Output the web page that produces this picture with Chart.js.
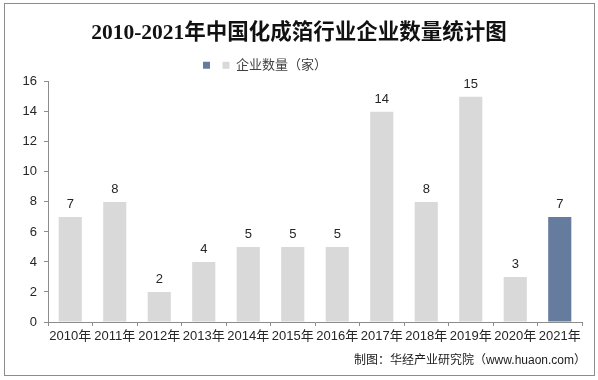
<!DOCTYPE html>
<html><head><meta charset="utf-8">
<script src="https://cdn.jsdelivr.net/npm/chart.js@4"></script>
<style>html,body{margin:0;padding:0;background:#fff}#wrap{width:598px;height:380px;position:relative}</style>
</head><body><div id="wrap"><canvas id="c" width="598" height="380"></canvas></div>
<script>
const categories = ['2010年','2011年','2012年','2013年','2014年','2015年','2016年','2017年','2018年','2019年','2020年','2021年'];
const companyCounts = [7,8,2,4,5,5,5,14,8,15,3,7];
const highlightYear = '2021年';
const yTicks = [0,2,4,6,8,10,12,14,16];
const seriesLabel = '企业数量（家）';
const titleText = '2010-2021年中国化成箔行业企业数量统计图';
const sourceText = '制图：华经产业研究院（www.huaon.com）';

const grayVals = companyCounts.map((v,i)=>categories[i]===highlightYear?null:v);
const darkVals = companyCounts.map((v,i)=>categories[i]===highlightYear?v:null);
const SANS = "'Liberation Sans','Noto Sans CJK SC',sans-serif";

const frame = {id:'frame', afterDraw(ch){const c=ch.ctx;c.save();c.strokeStyle='#8c8c8c';c.lineWidth=1;c.strokeRect(4.5,3.5,590,372);c.restore();}};
const shift = {id:'shift', afterLayout(ch){
  const mv=(b,dx)=>{if(b){b.left+=dx;b.right+=dx;}};
  mv(ch.titleBlock,8); mv(ch.legend,-26);
  const sub=ch.boxes.find(b=>b!==ch.titleBlock&&b.options&&b.options.text===sourceText); mv(sub,4);
}};
const labels = {id:'labels', afterDatasetsDraw(ch){const c=ch.ctx;c.save();c.font="13px "+SANS;c.fillStyle='#262626';c.textAlign='center';c.textBaseline='bottom';
 ch.data.datasets.forEach((ds,di)=>{const m=ch.getDatasetMeta(di);m.data.forEach((b,i)=>{const v=ds.data[i];if(v==null)return;c.fillText(String(v),b.x,b.y-6);});});c.restore();}};

new Chart(document.getElementById('c'),{
 type:'bar',
 data:{labels:categories,datasets:[
  {label:'',data:darkVals,backgroundColor:'#667c9f',barPercentage:0.52,categoryPercentage:1},
  {label:seriesLabel,data:grayVals,backgroundColor:'#d9d9d9',barPercentage:0.52,categoryPercentage:1}
 ]},
 options:{responsive:false,animation:false,devicePixelRatio:1,
  layout:{padding:{left:0,right:16,top:6,bottom:4}},
  plugins:{
   title:{display:true,text:titleText,color:'#111',font:{family:"'Liberation Serif','Noto Sans CJK SC',serif",size:21.5,weight:'bold'},padding:{top:15,bottom:6}},
   legend:{display:true,labels:{boxWidth:7,boxHeight:7,color:'#404040',font:{family:SANS,size:13},padding:6}},
   subtitle:{display:true,position:'bottom',align:'end',text:sourceText,color:'#1a1a1a',font:{family:SANS,size:12},padding:{top:6,bottom:8}},
   tooltip:{enabled:false}
  },
  scales:{
   x:{stacked:true,offset:true,grid:{display:true,drawOnChartArea:false,offset:true,tickLength:4,color:'#8c8c8c'},border:{color:'#8c8c8c'},ticks:{color:'#262626',font:{family:SANS,size:13},padding:3,maxRotation:0,autoSkip:false}},
   y:{stacked:true,min:0,max:16,afterBuildTicks(s){s.ticks=yTicks.map(v=>({value:v}));},afterFit(s){s.width=48;},grid:{display:true,drawOnChartArea:false,tickLength:4,color:'#8c8c8c'},border:{color:'#8c8c8c'},ticks:{color:'#262626',font:{family:SANS,size:13},padding:7}}
  }
 },
 plugins:[frame,shift,labels]
});
</script></body></html>
